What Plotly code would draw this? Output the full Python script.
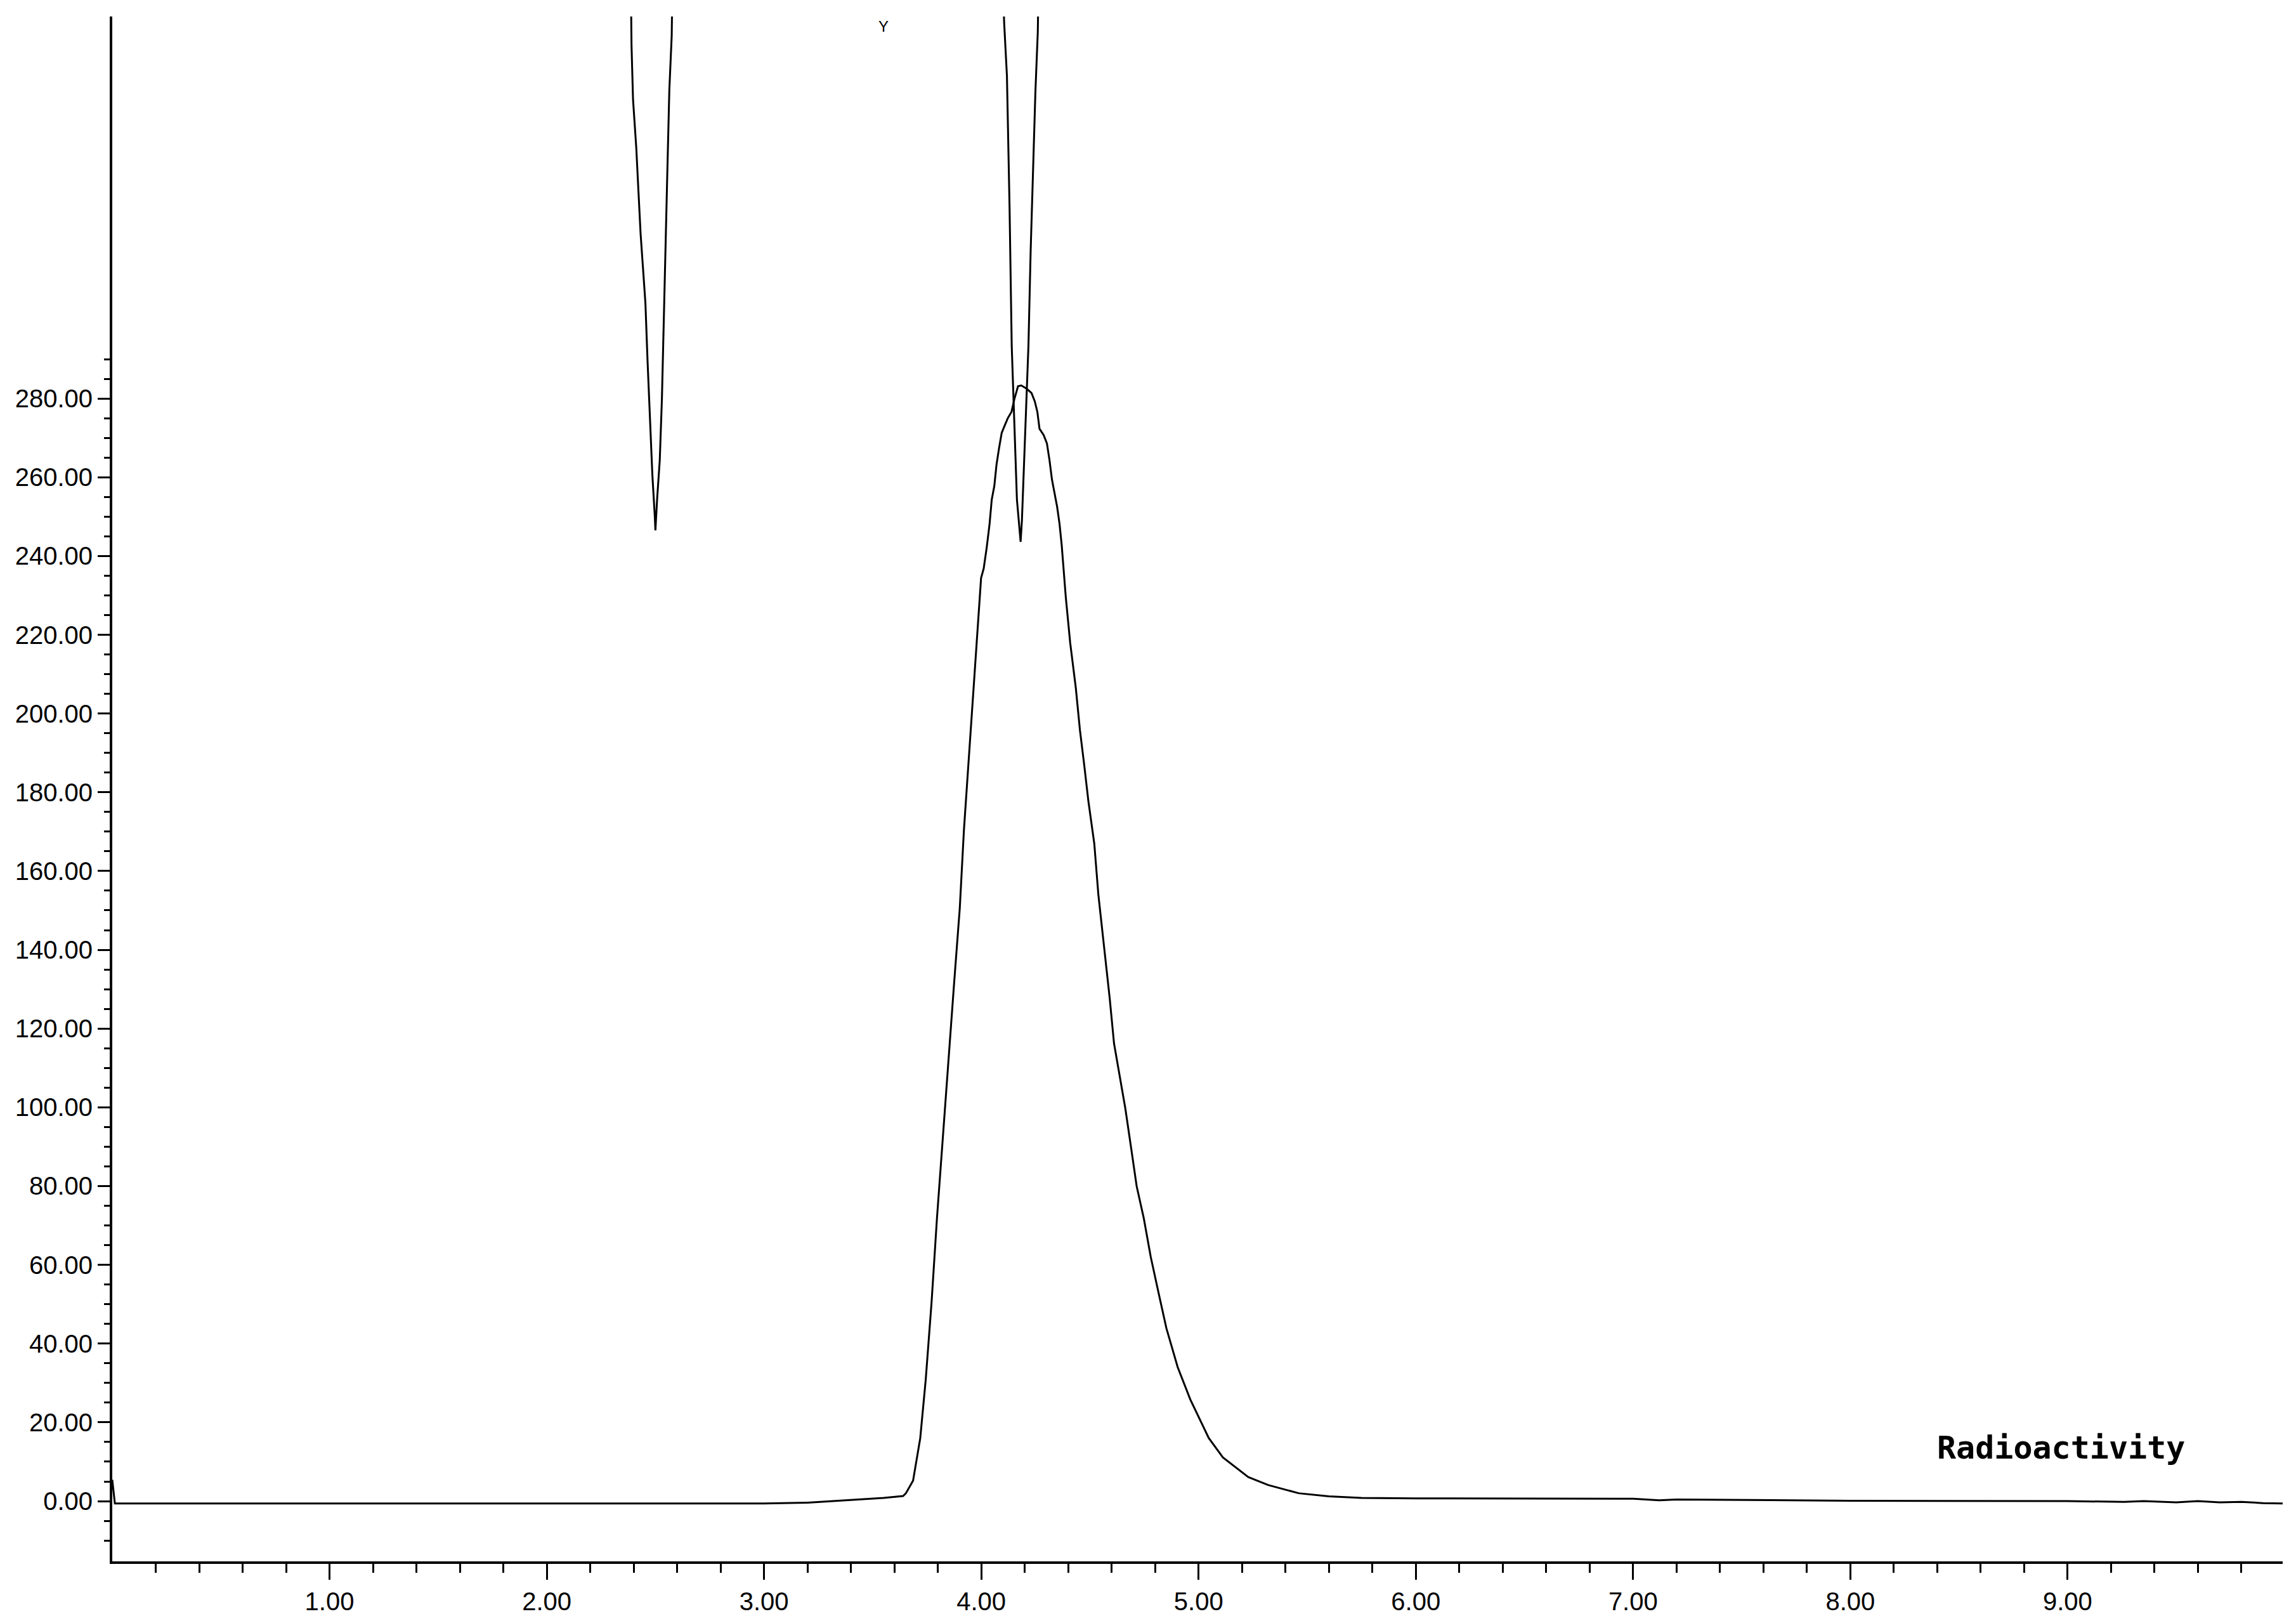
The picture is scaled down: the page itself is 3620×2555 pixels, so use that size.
import plotly.graph_objects as go

# Radioactivity trace (retention time in min, counts)
rad_time = [0.0, 0.012, 1.0, 2.0, 3.0, 3.2, 3.4, 3.55, 3.64,
            3.653, 3.686, 3.719, 3.744, 3.771, 3.796, 3.823, 3.848, 3.874, 3.901,
            3.920, 3.940, 3.959, 3.979, 3.999, 4.011, 4.025, 4.038, 4.048, 4.060,
            4.070, 4.082, 4.094, 4.106, 4.122, 4.139, 4.152, 4.169, 4.184, 4.208,
            4.231, 4.246, 4.258, 4.268, 4.287, 4.302, 4.314, 4.325, 4.337, 4.349,
            4.360, 4.370, 4.389, 4.409, 4.435, 4.454, 4.474, 4.493, 4.520, 4.539,
            4.565, 4.591, 4.611, 4.637, 4.663, 4.689, 4.715, 4.748, 4.780, 4.819,
            4.852, 4.904, 4.962, 5.047, 5.112, 5.229, 5.320, 5.461, 5.6, 5.75,
            6.0, 7.0, 7.12, 7.2, 7.5, 8.0, 9.0, 9.26, 9.35, 9.5, 9.6, 9.7, 9.8,
            9.9, 9.99]
rad_counts = [5.4, -0.6, -0.6, -0.6, -0.6, -0.4, 0.3, 0.8, 1.3,
              2.0, 5.2, 16.0, 30.7, 50.4, 71.9, 93.2, 111.2, 130.9, 150.6,
              170.4, 186.8, 203.2, 219.7, 234.4, 236.8, 242.2, 248.1, 254.3, 257.8,
              263.2, 267.5, 271.3, 272.9, 275.0, 276.6, 279.8, 283.1, 283.3, 282.5,
              281.4, 279.3, 276.6, 272.3, 270.7, 268.6, 264.3, 259.5, 256.2, 252.5,
              248.2, 242.8, 229.5, 218.0, 206.5, 195.8, 186.8, 177.7, 167.0, 153.9,
              140.8, 127.7, 116.2, 107.9, 99.7, 89.9, 80.0, 71.8, 62.0, 52.1,
              43.9, 34.0, 25.8, 16.0, 11.1, 6.1, 4.1, 2.0, 1.2, 0.8,
              0.7, 0.6, 0.2, 0.4, 0.3, 0.1, 0.0, -0.2, 0.0, -0.3, 0.0, -0.3, -0.2,
              -0.5, -0.6]

# second detector, off scale except for two dips (None = gap)
uv_time = [2.388, 2.390, 2.397, 2.412, 2.422, 2.432, 2.442, 2.454, 2.464, 2.476,
           2.486, 2.497, 2.500, 2.508, 2.520, 2.530, 2.541, 2.553, 2.564, 2.575, 2.577,
           None,
           4.103, 4.105, 4.118, 4.130, 4.140, 4.156, 4.164, 4.174, 4.181, 4.187,
           4.194, 4.205, 4.217, 4.227, 4.239, 4.249, 4.260, 4.262]
uv_signal = [380, 369.7, 355.9, 343.6, 332.5, 321.7, 313.8, 304.2, 289.3, 274.0,
             260.6, 250.2, 246.5, 254.6, 264.3, 280.0, 303.4, 333.2, 358.2, 372.1, 380,
             None,
             380, 375.6, 361.9, 328.7, 293.4, 267.3, 254.3, 248.0, 243.6, 249.1,
             259.3, 274.4, 293.4, 317.2, 338.0, 357.8, 373.0, 380]

y_major = list(range(0, 300, 20))
y_minor = [v for v in range(-10, 295, 5) if v % 20 != 0]
x_major = [1, 2, 3, 4, 5, 6, 7, 8, 9]
x_minor = [round(i * 0.2, 1) for i in range(1, 50) if i % 5 != 0]

fig = go.Figure()
fig.add_trace(go.Scatter(x=uv_time, y=uv_signal, mode="lines",
                         line=dict(color="black", width=3), connectgaps=False))
fig.add_trace(go.Scatter(x=rad_time, y=rad_counts, mode="lines",
                         line=dict(color="black", width=3)))

fig.add_annotation(x=8.97, y=13.5, text="<b>Radioactivity</b>", showarrow=False,
                   font=dict(family="DejaVu Sans Mono", size=50, color="black"))
fig.add_annotation(x=3.55, y=1.0, yref="paper", yanchor="top", text="Y", showarrow=False,
                   font=dict(family="Liberation Sans", size=24, color="black"))

fig.update_xaxes(range=[0, 9.99], showgrid=False, zeroline=False,
                 showline=True, linecolor="black", linewidth=4,
                 tickmode="array", tickvals=x_major,
                 ticktext=["%.2f" % v for v in x_major],
                 ticks="outside", ticklen=25, tickwidth=3, tickcolor="black",
                 tickfont=dict(family="Liberation Sans", size=40, color="black"),
                 minor=dict(tickvals=x_minor, ticks="outside", ticklen=14,
                            tickwidth=3, tickcolor="black", showgrid=False))
fig.update_yaxes(range=[-15.3, 377], showgrid=False, zeroline=False,
                 showline=True, linecolor="black", linewidth=4,
                 tickmode="array", tickvals=y_major,
                 ticktext=["%.2f" % v for v in y_major],
                 ticks="outside", ticklen=19, tickwidth=3, tickcolor="black",
                 tickfont=dict(family="Liberation Sans", size=40, color="black"),
                 minor=dict(tickvals=y_minor, ticks="outside", ticklen=9,
                            tickwidth=3, tickcolor="black", showgrid=False))

fig.update_layout(width=3620, height=2555, autosize=False, showlegend=False,
                  paper_bgcolor="white", plot_bgcolor="white",
                  margin=dict(l=169, r=29, t=18, b=102))

fig.write_html("out.html")
